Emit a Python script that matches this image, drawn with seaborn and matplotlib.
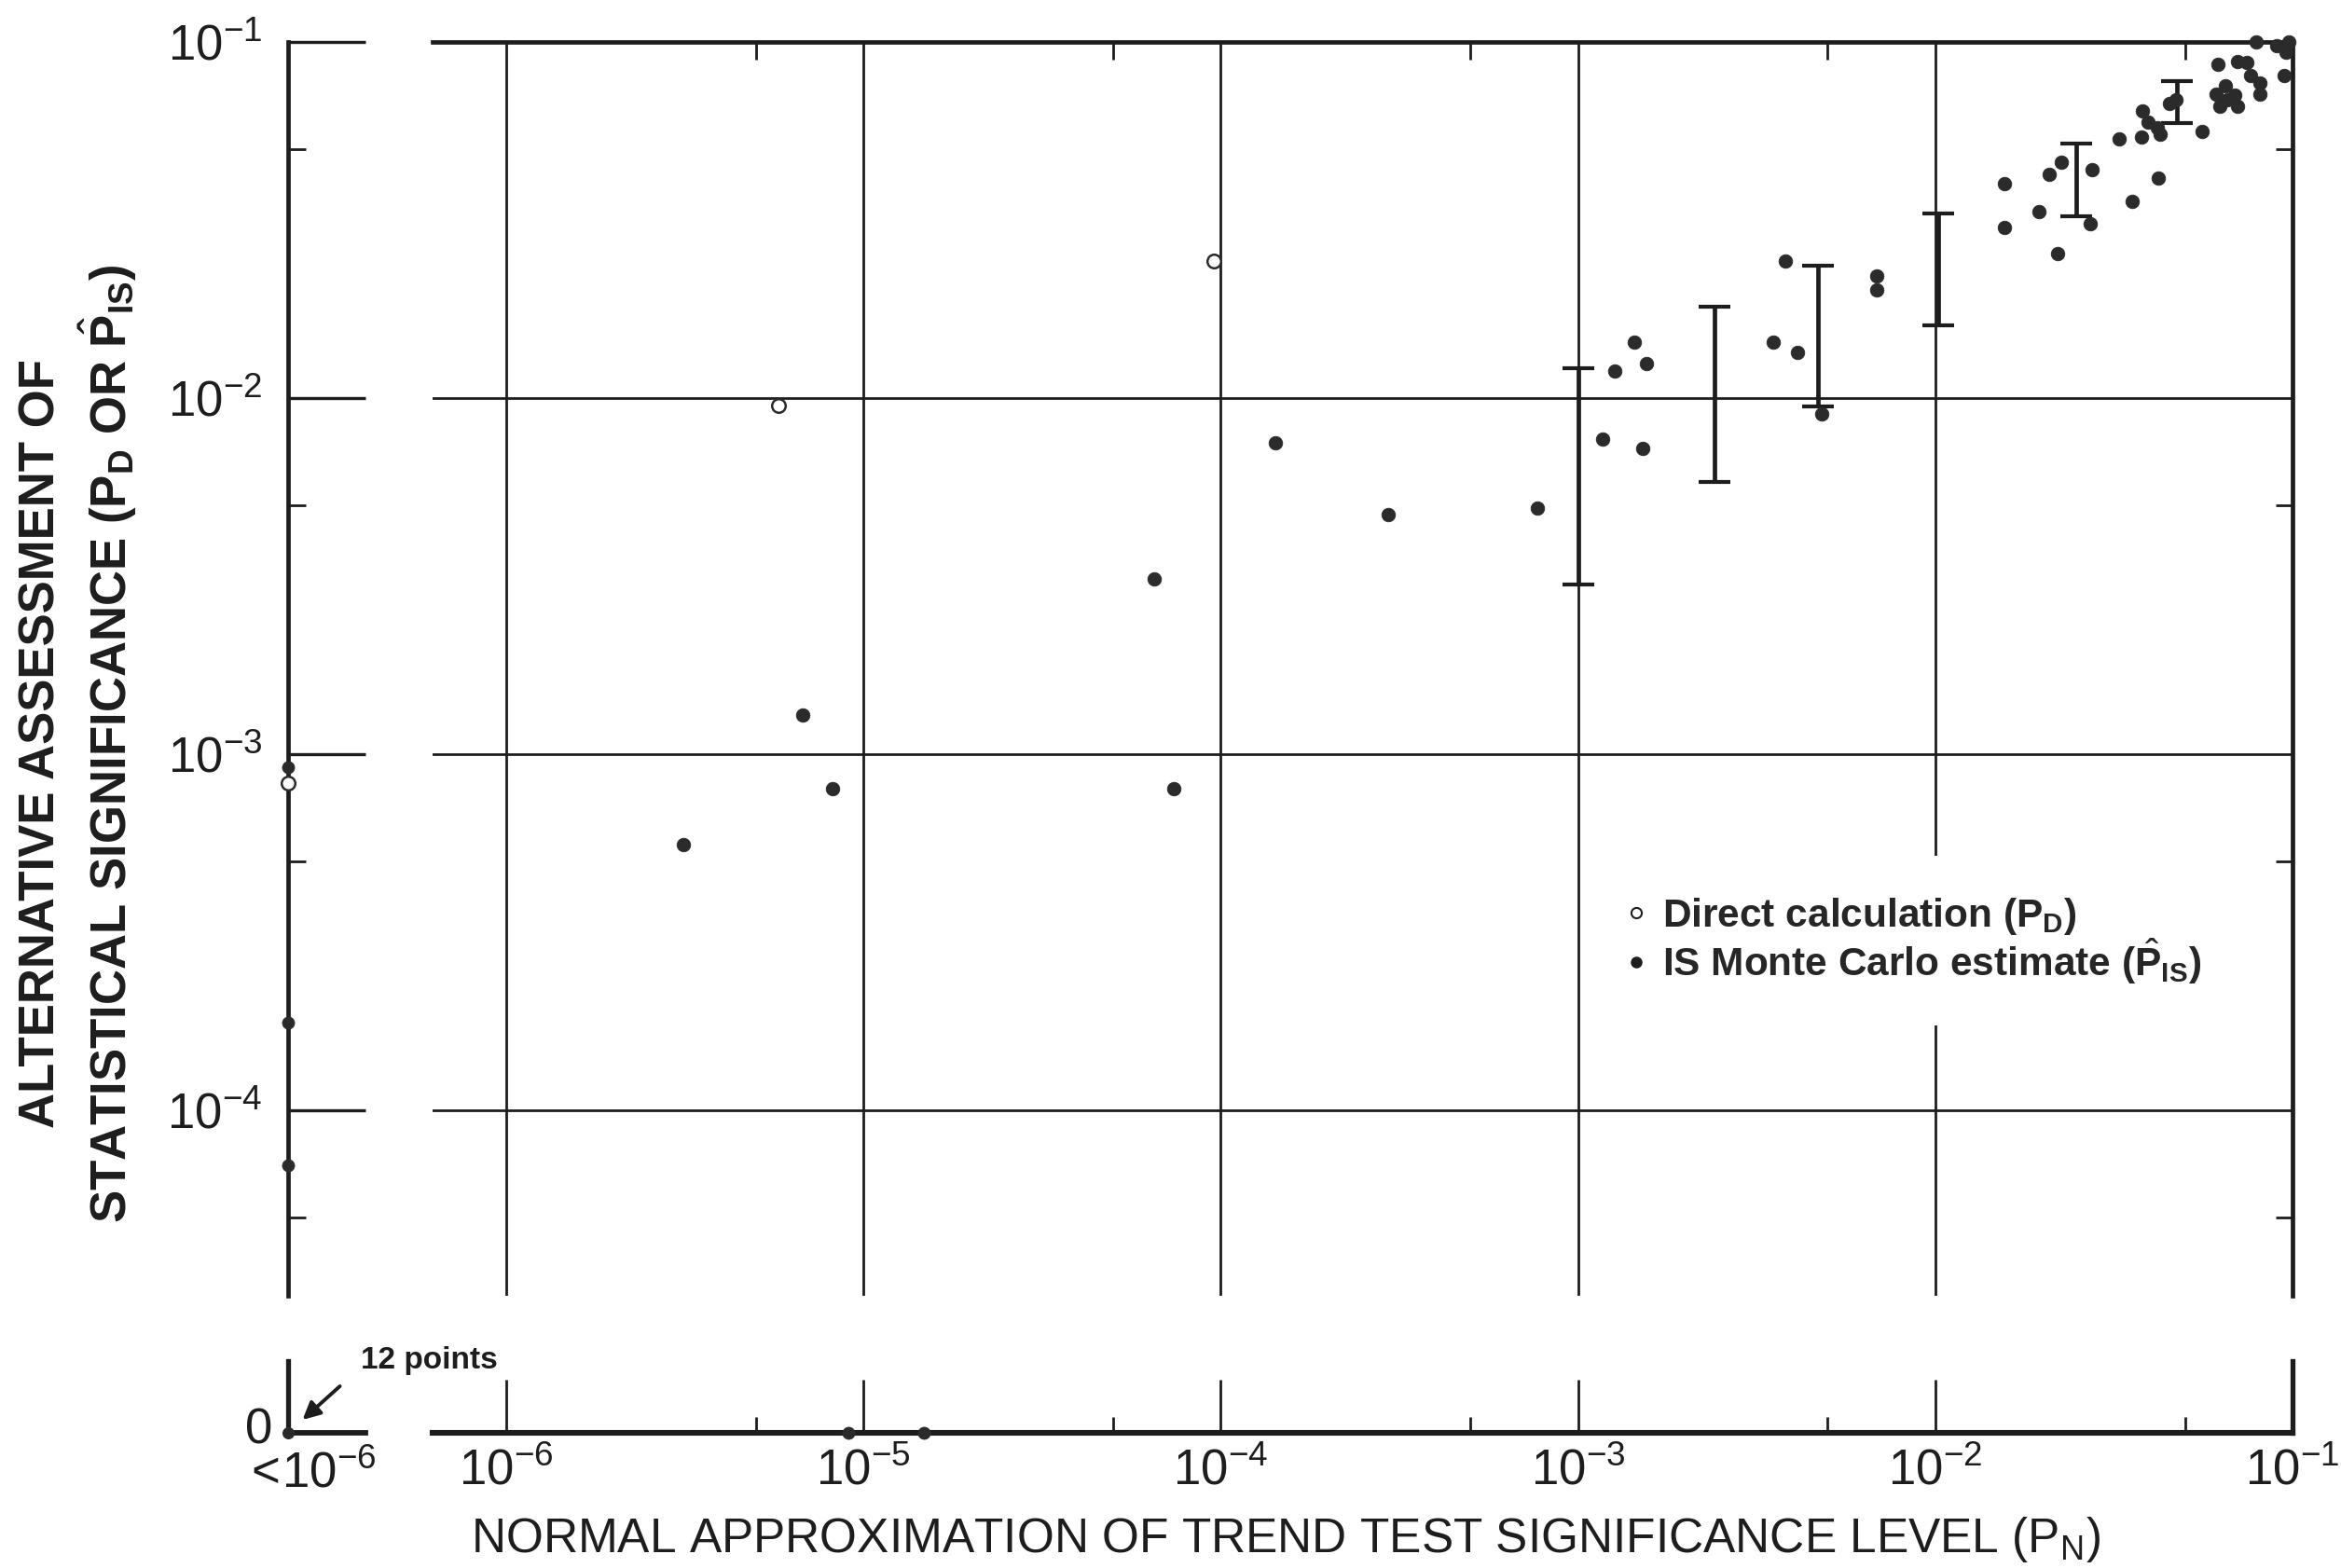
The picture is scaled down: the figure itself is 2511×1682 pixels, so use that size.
import numpy as np
import pandas as pd
import matplotlib
matplotlib.use("Agg")
import matplotlib.pyplot as plt
import seaborn as sns
from matplotlib.ticker import FixedLocator, LogFormatterMathtext, NullFormatter
from matplotlib.lines import Line2D

# ---------------- data ----------------
# IS Monte Carlo estimates inside the main log-log panel
is_pn = [3.13e-6, 6.78e-6, 8.2e-6, 6.5e-5, 7.4e-5, 1.42e-4, 2.95e-4, 7.7e-4,
         1.17e-3, 1.27e-3, 1.44e-3, 1.55e-3, 1.52e-3, 3.52e-3, 3.80e-3, 4.12e-3,
         4.82e-3, 6.84e-3, 6.84e-3, 0.0156, 0.0156, 0.0195, 0.0220, 0.0209,
         0.0226, 0.0274, 0.0271, 0.0328, 0.0356, 0.0422, 0.0381, 0.0393,
         0.0418, 0.0378, 0.0426, 0.0452, 0.0471, 0.0559, 0.0611, 0.0649,
         0.0689, 0.0624, 0.0703, 0.0655, 0.0617, 0.0703, 0.0747, 0.0762,
         0.0809, 0.0809, 0.0947, 0.0790, 0.0903, 0.0959, 0.0977]
is_alt = [5.56e-4, 1.29e-3, 8.0e-4, 3.10e-3, 8.0e-4, 7.47e-3, 4.70e-3, 4.9e-3,
          7.67e-3, 0.0119, 0.0144, 0.0125, 7.21e-3, 0.0144, 0.0243, 0.0134,
          9.04e-3, 0.0220, 0.0201, 0.0399, 0.0301, 0.0333, 0.0254, 0.0424,
          0.0459, 0.0437, 0.0308, 0.0534, 0.0357, 0.0416, 0.0640, 0.0597,
          0.0574, 0.0540, 0.0551, 0.0673, 0.0687, 0.0561, 0.0715, 0.0752,
          0.0708, 0.0659, 0.0659, 0.0687, 0.0865, 0.0883, 0.0874, 0.0807,
          0.0767, 0.0715, 0.0807, 0.100, 0.0977, 0.0936, 0.100]
# Direct calculations inside the main panel
direct_pn = [5.8e-6, 9.55e-5]
direct_alt = [9.55e-3, 0.0242]
# points with P_N < 1e-6 (left column)
left_is_alt = [9.2e-4, 1.76e-4, 7.0e-5]
left_direct_alt = [8.3e-4]
# points with alternative assessment = 0 (bottom row)
zero_is_pn = [9.1e-6, 1.48e-5]
# corner: P_N < 1e-6 and value 0
corner_count = 12
# interval bars
eb_pn = [1.0e-3, 2.41e-3, 4.70e-3, 1.02e-2, 0.0248, 0.0476]
eb_lo = [3.0e-3, 5.8e-3, 9.5e-3, 0.0160, 0.0324, 0.0591]
eb_hi = [0.0121, 0.0180, 0.0235, 0.0330, 0.0519, 0.0775]

x_decades = [1e-6, 1e-5, 1e-4, 1e-3, 1e-2, 1e-1]
x_minor = [5e-6, 5e-5, 5e-4, 5e-3, 5e-2]
y_decades = [1e-4, 1e-3, 1e-2, 1e-1]
y_minor = [5e-5, 5e-4, 5e-3, 5e-2]

x_label = r"NORMAL APPROXIMATION OF TREND TEST SIGNIFICANCE LEVEL (P$_\mathdefault{N}$)"
y_label = ("ALTERNATIVE ASSESSMENT OF\n"
           r"STATISTICAL SIGNIFICANCE (P$_\mathbf{D}$ OR $\hat{\mathbf{P}}_\mathbf{IS}$)")
legend_labels = [r"Direct calculation (P$_\mathbf{D}$)",
                 r"IS Monte Carlo estimate ($\hat{\mathbf{P}}_\mathbf{IS}$)"]

# ---------------- style ----------------
sns.set_theme(style="white")
plt.rcParams["font.family"] = ["Liberation Sans", "DejaVu Sans"]
plt.rcParams["mathtext.fontset"] = "custom"
plt.rcParams["mathtext.rm"] = "Liberation Sans"
plt.rcParams["mathtext.it"] = "Liberation Sans:italic"
plt.rcParams["mathtext.bf"] = "Liberation Sans:bold"
INK = "#1d1d1d"
DOT = "#2b2b2b"
TICKFS = 38
DOT_S = 110

W, H = 2511, 1682
fig = plt.figure(figsize=(W / 100, H / 100), dpi=100)
fig.patch.set_facecolor("white")


def rect(x0, x1, ytop, ybot):
    return [x0 / W, 1 - ybot / H, (x1 - x0) / W, (ybot - ytop) / H]


XMIN, XMAX = 10 ** -6.206, 0.1
YMIN, YMAX = 10 ** -4.521, 0.1

ax_main = fig.add_axes(rect(464, 2459, 45, 1390))
ax_left = fig.add_axes(rect(309, 464, 45, 1390))
ax_bot = fig.add_axes(rect(464, 2459, 1460, 1537))
ax_c = fig.add_axes(rect(309, 392, 1460, 1537))
for a in (ax_main, ax_left, ax_bot, ax_c):
    a.set_facecolor("none")
    for s in a.spines.values():
        s.set_visible(False)
        s.set_color(INK)

# ---------------- main panel ----------------
ax_main.set_xscale("log")
ax_main.set_yscale("log")
ax_main.set_xlim(XMIN, XMAX)
ax_main.set_ylim(YMIN, YMAX)
ax_main.xaxis.set_major_locator(FixedLocator(x_decades))
ax_main.yaxis.set_major_locator(FixedLocator(y_decades))
ax_main.xaxis.set_minor_locator(FixedLocator(x_minor))
ax_main.yaxis.set_minor_locator(FixedLocator(y_minor))
ax_main.xaxis.set_minor_formatter(NullFormatter())
ax_main.yaxis.set_minor_formatter(NullFormatter())
ax_main.grid(True, which="major", color=INK, lw=2.0)
ax_main.tick_params(which="major", length=0, labelbottom=False, labelleft=False)
ax_main.tick_params(axis="x", which="minor", direction="in", top=True, bottom=False,
                    length=14, width=2, color=INK)
ax_main.tick_params(axis="y", which="minor", direction="in", right=True, left=False,
                    length=13, width=2, color=INK)
ax_main.spines["top"].set_visible(True)
ax_main.spines["right"].set_visible(True)
ax_main.spines["top"].set_linewidth(3.4)
ax_main.spines["right"].set_linewidth(3.4)

eb_mid = np.sqrt(np.array(eb_lo) * np.array(eb_hi))
ax_main.errorbar(eb_pn, eb_mid,
                 yerr=[eb_mid - np.array(eb_lo), np.array(eb_hi) - eb_mid],
                 fmt="none", ecolor=INK, elinewidth=3.4, capsize=12, capthick=3, zorder=4)

df_is = pd.DataFrame({"pn": is_pn, "alt": is_alt})
df_d = pd.DataFrame({"pn": direct_pn, "alt": direct_alt})
sns.scatterplot(data=df_is, x="pn", y="alt", ax=ax_main, color=DOT, s=DOT_S,
                linewidth=0.6, edgecolor=DOT, zorder=5, clip_on=False)
sns.scatterplot(data=df_d, x="pn", y="alt", ax=ax_main, facecolor="white", s=DOT_S,
                linewidth=1.8, edgecolor=DOT, zorder=5, clip_on=False)
ax_main.set_xlabel("")
ax_main.set_ylabel("")

handles = [Line2D([], [], ls="", marker="o", mfc="white", mec=INK, mew=1.5, ms=8),
           Line2D([], [], ls="", marker="o", mfc=INK, mec=INK, ms=8)]
leg = ax_main.legend(handles, legend_labels, loc="center", bbox_to_anchor=(0.797, 0.283),
                     frameon=True, fancybox=False, facecolor="white", edgecolor="none",
                     framealpha=1, prop={"size": 30.5, "weight": "bold"},
                     handlelength=0.4, handletextpad=0.45, labelspacing=0.0,
                     borderpad=1.0)
leg.set_zorder(6)

# ---------------- left column (P_N < 1e-6) ----------------
ax_left.set_yscale("log")
ax_left.set_ylim(YMIN, YMAX)
ax_left.set_xlim(0, 1)
ax_left.spines["left"].set_visible(True)
ax_left.spines["left"].set_linewidth(3.4)
ax_left.yaxis.set_major_locator(FixedLocator(y_decades))
ax_left.yaxis.set_major_formatter(LogFormatterMathtext())
ax_left.yaxis.set_minor_locator(FixedLocator(y_minor))
ax_left.yaxis.set_minor_formatter(NullFormatter())
ax_left.tick_params(axis="y", which="major", direction="in", left=True, length=60,
                    width=2.4, pad=20, labelsize=TICKFS, color=INK, labelcolor=INK)
ax_left.tick_params(axis="y", which="minor", direction="in", left=True, length=14,
                    width=2, color=INK)
ax_left.set_xticks([])
sns.scatterplot(x=[0.0] * len(left_is_alt), y=left_is_alt, ax=ax_left, color=DOT,
                s=DOT_S * 0.8, linewidth=0.6, edgecolor=DOT, zorder=5, clip_on=False)
sns.scatterplot(x=[0.0] * len(left_direct_alt), y=left_direct_alt, ax=ax_left,
                facecolor="white", s=DOT_S, linewidth=1.8, edgecolor=DOT, zorder=6,
                clip_on=False)

# ---------------- bottom row (value 0) ----------------
ax_bot.set_xscale("log")
ax_bot.set_xlim(XMIN, XMAX)
ax_bot.set_ylim(0, 1)
ax_bot.spines["bottom"].set_visible(True)
ax_bot.spines["bottom"].set_linewidth(4.4)
ax_bot.spines["right"].set_visible(True)
ax_bot.spines["right"].set_linewidth(3.8)
ax_bot.xaxis.set_major_locator(FixedLocator(x_decades))
ax_bot.xaxis.set_major_formatter(LogFormatterMathtext())
ax_bot.xaxis.set_minor_locator(FixedLocator(x_minor))
ax_bot.xaxis.set_minor_formatter(NullFormatter())
ax_bot.tick_params(axis="x", which="major", direction="in", bottom=True, length=41,
                   width=2, pad=12, labelsize=TICKFS, color=INK, labelcolor=INK)
ax_bot.tick_params(axis="x", which="minor", direction="in", bottom=True, length=12,
                   width=2, color=INK)
ax_bot.set_yticks([])
sns.scatterplot(x=zero_is_pn, y=[0.0] * len(zero_is_pn), ax=ax_bot, color=DOT,
                s=DOT_S * 0.8, linewidth=0.6, edgecolor=DOT, zorder=5, clip_on=False)

# ---------------- corner (P_N < 1e-6, value 0) ----------------
ax_c.set_xlim(0, 1)
ax_c.set_ylim(0, 1)
ax_c.spines["left"].set_visible(True)
ax_c.spines["bottom"].set_visible(True)
ax_c.spines["left"].set_linewidth(3.8)
ax_c.spines["bottom"].set_linewidth(4.2)
ax_c.set_yticks([0.1])
ax_c.set_yticklabels(["0"])
ax_c.set_xticks([0.28])
ax_c.set_xticklabels([r"$<\!\mathdefault{10^{-6}}$"])
ax_c.tick_params(axis="y", length=0, pad=12, labelsize=TICKFS, left=True, labelcolor=INK)
ax_c.tick_params(axis="x", length=0, pad=14, labelsize=TICKFS, bottom=True, labelcolor=INK)
sns.scatterplot(x=[0.0], y=[0.0], ax=ax_c, color=DOT, s=DOT_S * 0.8, linewidth=0,
                zorder=5, clip_on=False)
ax_c.annotate("", xy=(0, 0), xytext=(40, 36), textcoords="offset points",
              arrowprops=dict(arrowstyle="-|>", color=INK, lw=2.8, shrinkA=0,
                              shrinkB=15, mutation_scale=28))
ax_c.annotate(f"{corner_count} points", xy=(0, 0), xytext=(56, 50),
              textcoords="offset points", fontsize=24, fontweight="bold",
              color=INK, ha="left", va="baseline")

# ---------------- axis titles ----------------
fig.text(1379 / W, 1 - 1651 / H, x_label, ha="center", va="center",
         fontsize=37, color=INK)
fig.text(84 / W, 1 - 798 / H, y_label, ha="center", va="center", rotation=90,
         multialignment="center", fontsize=38, fontweight="bold", color=INK,
         linespacing=1.25)

fig.savefig("out.png", dpi=100, facecolor="white")
